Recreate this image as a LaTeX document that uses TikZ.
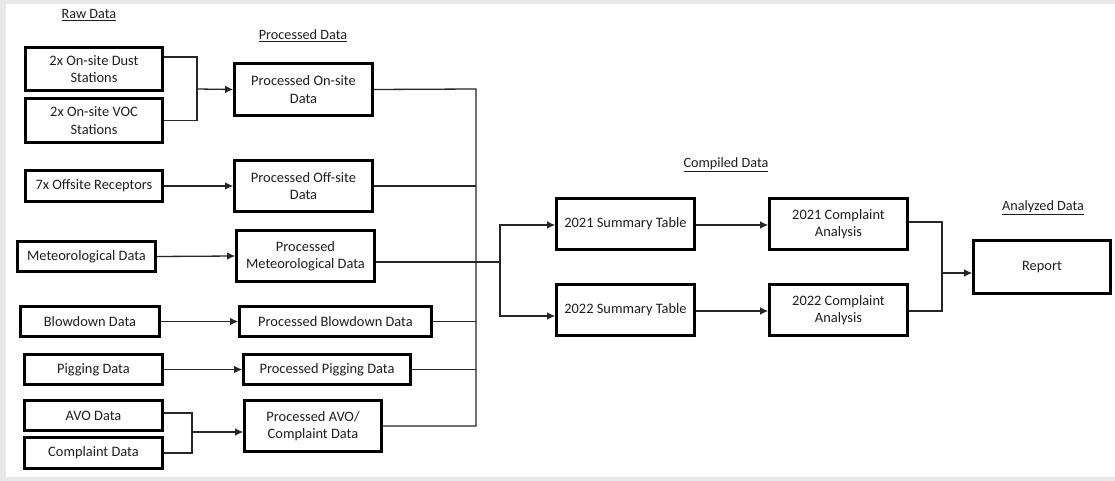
\documentclass[tikz,border=0pt]{standalone}
\usepackage{fontspec}
\setmainfont{Carlito}
\usetikzlibrary{arrows.meta}
\definecolor{txt}{HTML}{1E1E1E}
\definecolor{bgg}{HTML}{E8E8E8}
\tikzset{
  box/.style={draw=black, line width=2.6pt, fill=white, inner sep=0pt, align=center,
    font=\fontsize{14.4}{17.2}\selectfont, text=txt},
  lbl/.style={font=\fontsize{14.2}{17}\selectfont, text=txt, inner sep=0pt},
  conn/.style={draw=black!85, line width=1.3pt},
  arr/.style={conn, -{Latex[length=8pt,width=7.5pt]}}
}
\begin{document}
\begin{tikzpicture}[x=1pt,y=-1pt]
\useasboundingbox (0,0) rectangle (1115,481);
\fill[bgg] (0,0) rectangle (1115,481);
\fill[white] (6,4) rectangle (1115,477);

% labels
\node[lbl] (lraw) at (89,15) {\underline{Raw Data}};
\node[lbl] (lproc) at (303,36) {\underline{Processed Data}};
\node[lbl] (lcomp) at (726,165) {\underline{Compiled Data}};
\node[lbl] (lanal) at (1043,208) {\underline{Analyzed Data}};

% raw boxes
\node[box, minimum width=137pt, minimum height=43pt] (dust) at (94,69) {2x On-site Dust\\Stations};
\node[box, minimum width=137pt, minimum height=44pt] (voc) at (94,120.5) {2x On-site VOC\\Stations};
\node[box, minimum width=137pt, minimum height=31pt] (off) at (94,186) {7x Offsite Receptors};
\node[box, minimum width=138pt, minimum height=30pt] (met) at (86.5,256.5) {Meteorological Data};
\node[box, minimum width=139pt, minimum height=30pt] (blow) at (90,321.5) {Blowdown Data};
\node[box, minimum width=138pt, minimum height=30pt] (pig) at (93.5,369.5) {Pigging Data};
\node[box, minimum width=138pt, minimum height=30pt] (avo) at (93.5,415.5) {AVO Data};
\node[box, minimum width=138pt, minimum height=31pt] (compl) at (93.5,453) {Complaint Data};

% processed boxes
\node[box, minimum width=138pt, minimum height=52pt] (pon) at (303.5,89.5) {Processed On-site\\Data};
\node[box, minimum width=138pt, minimum height=51pt] (poff) at (303.5,186) {Processed Off-site\\Data};
\node[box, minimum width=138pt, minimum height=51pt] (pmet) at (305.5,256) {Processed\\Meteorological Data};
\node[box, minimum width=192pt, minimum height=30pt] (pblow) at (335.5,321.5) {Processed Blowdown Data};
\node[box, minimum width=167pt, minimum height=30pt] (ppig) at (327,369.5) {Processed Pigging Data};
\node[box, minimum width=137pt, minimum height=51pt] (pavo) at (313,426) {Processed AVO/\\Complaint Data};

% compiled
\node[box, minimum width=138pt, minimum height=51pt] (s21) at (625.5,224) {2021 Summary Table};
\node[box, minimum width=138pt, minimum height=51pt] (s22) at (625.5,310) {2022 Summary Table};
\node[box, minimum width=138pt, minimum height=51pt] (c21) at (838.5,224) {2021 Complaint\\Analysis};
\node[box, minimum width=138pt, minimum height=51pt] (c22) at (838.5,310) {2022 Complaint\\Analysis};
\node[box, minimum width=137pt, minimum height=53pt] (rep) at (1042,267) {Report};

% junction coordinates
\coordinate (j1) at (197,89);
\coordinate (j2) at (192,432);
\coordinate (bt) at (476,89);
\coordinate (bb) at (476,426);
\coordinate (j3) at (500,262);
\coordinate (j4) at (942,273);

% on-site merge
\draw[conn] ([yshift=12pt]dust.east) -| (j1) |- (voc.east);
\draw[arr] (j1) -- (pon.west);
% single arrows
\draw[arr] (off.east) -- (poff.west);
\draw[arr] (met.east) -- (pmet.west);
\draw[arr] (blow.east) -- (pblow.west);
\draw[arr] (pig.east) -- (ppig.west);
% AVO merge
\draw[conn] ([yshift=2.5pt]avo.east) -| (j2) |- (compl.east);
\draw[arr] (j2) -- ([yshift=-6pt]pavo.west);

% bus
\draw[conn] (pon.east) -- (bt) -- (bb) -- (pavo.east);
\draw[conn] (poff.east) -- (poff.east -| bt);
\draw[conn] ([yshift=-6pt]pmet.east) -- (j3);
\draw[conn] (pblow.east) -- (pblow.east -| bt);
\draw[conn] (ppig.east) -- (ppig.east -| bt);
\draw[arr] (j3) |- ([yshift=-1pt]s21.west);
\draw[arr] (j3) |- ([yshift=-6pt]s22.west);

% compiled to analysis
\draw[arr] ([yshift=-1pt]s21.east) -- ([yshift=-1pt]c21.west);
\draw[arr] ([yshift=-1pt]s22.east) -- ([yshift=-1pt]c22.west);
\draw[conn] ([yshift=2pt]c21.east) -| (j4) |- ([yshift=-1pt]c22.east);
\draw[arr] (j4) -- ([yshift=-6pt]rep.west);
\end{tikzpicture}
\end{document}
